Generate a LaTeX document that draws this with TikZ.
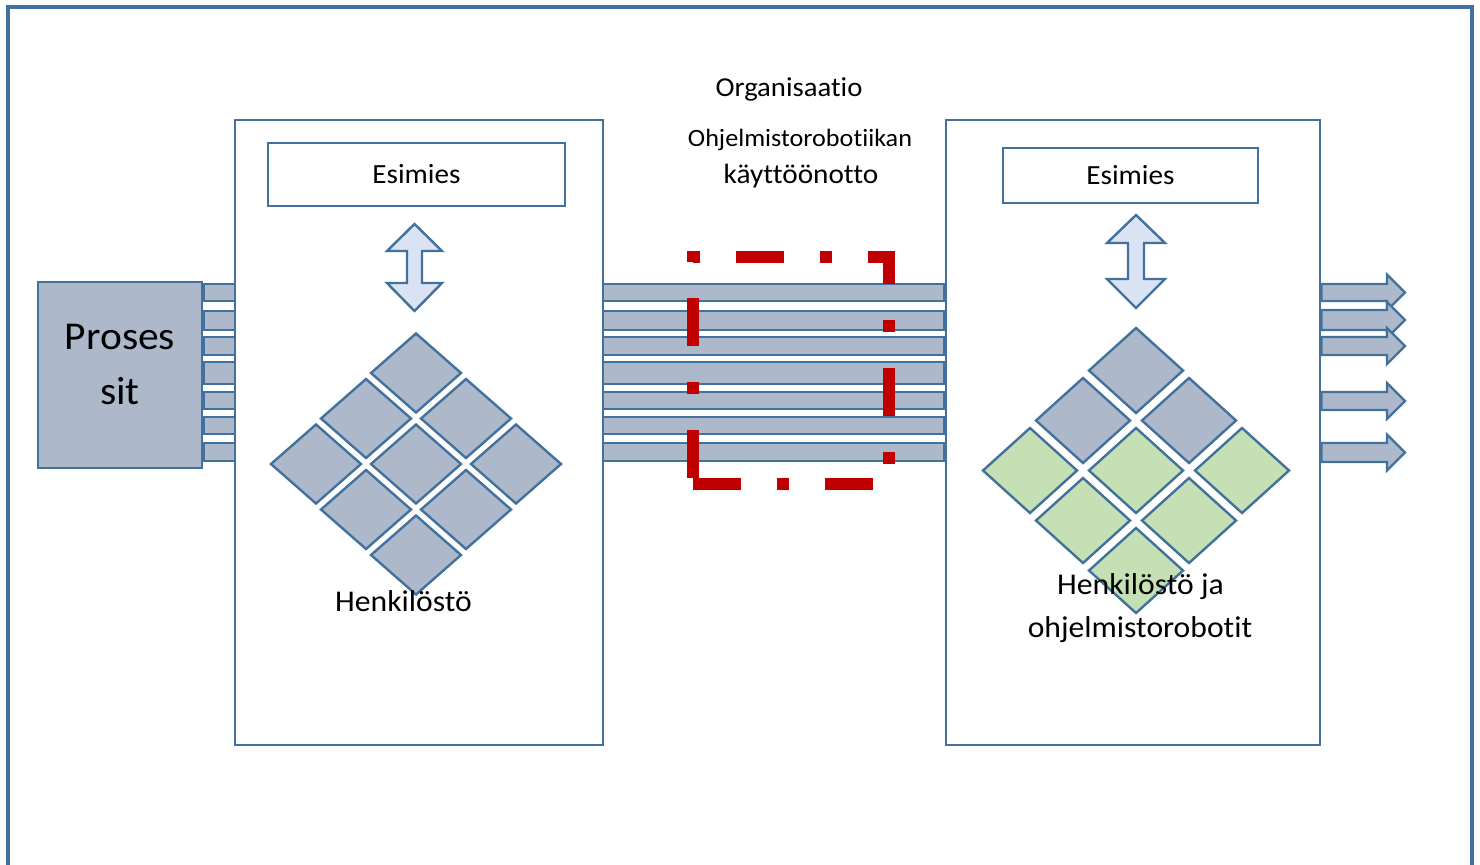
\documentclass[tikz,border=0pt]{standalone}
\usepackage{fontspec}
\setmainfont{Carlito}[FakeStretch=1.05,Ligatures=NoCommon]
\usetikzlibrary{shapes.geometric,backgrounds}
\definecolor{edge}{HTML}{41719C}
\definecolor{slate}{HTML}{ADB9CA}
\definecolor{leaf}{HTML}{C5E0B4}
\definecolor{pale}{HTML}{DAE3F3}
\definecolor{robred}{HTML}{C00000}
\begin{document}
\begin{tikzpicture}[x=0.75pt,y=-0.75pt,
  frame/.style={draw=edge,line width=2.4pt},
  panel/.style={draw=edge,fill=white,line width=2.1pt,inner sep=0pt},
  headbox/.style={draw=edge,fill=white,line width=2.1pt,inner sep=0pt,
    font=\fontsize{20.8pt}{24pt}\selectfont},
  procbox/.style={draw=edge,fill=slate,line width=2.1pt,inner sep=0pt},
  flowbar/.style={draw=edge,fill=slate,line width=1.8pt},
  dbl/.style={draw=edge,fill=pale,line width=1.8pt,line join=miter},
  tileL/.style={diamond,draw=edge,line width=1.8pt,inner sep=0pt,
    minimum width=68.25pt,minimum height=60pt},
  tileR/.style={diamond,draw=edge,line width=1.8pt,inner sep=0pt,
    minimum width=71.25pt,minimum height=64.5pt},
  lbl/.style={anchor=base,inner sep=0pt},
  robo/.style={draw=robred,line width=9pt,line cap=butt,line join=miter,
    dash pattern=on 36pt off 27pt on 9pt off 27pt}]

\useasboundingbox (0,0) rectangle (1480,864);
\clip (0,0) rectangle (1480,864);

% outer frame, open at the bottom
\draw[frame] (8,880) -- (8,7) -- (1472,7) -- (1472,880);

% process block and the two organisation panels
\node[procbox,minimum width=123pt,minimum height=139.5pt] (proc) at (120,375) {};
\node[panel,minimum width=276pt,minimum height=468.75pt] (orgL) at (419,432.5) {};
\node[panel,minimum width=280.5pt,minimum height=468.75pt] (orgR) at (1133,432.5) {};
\node[headbox,minimum width=222.75pt,minimum height=47.25pt] (esL) at (416.5,174.5) {Esimies};
\node[headbox,minimum width=191.25pt,minimum height=41.25pt] (esR) at (1130.5,175.5) {Esimies};

% process flows running behind the panels
\begin{scope}[on background layer]
  \foreach \t/\b in {284/301,311/330,337/355,362/384,392/409,417/434,443/461}
    \draw[flowbar] (proc.east |- 0,\t) rectangle (orgR.west |- 0,\b);
\end{scope}

% flows leaving the robotised organisation
\foreach \t/\b in {284/301,310/330,337/355,392/410,443/462}
  \draw[flowbar,line join=miter] (orgR.east |- 0,\t) -- (1387,\t) -- (1387,{(\t+\b)/2-18})
    -- (1405,{(\t+\b)/2}) -- (1387,{(\t+\b)/2+18}) -- (1387,\b) -- (orgR.east |- 0,\b) -- cycle;

% two-way arrows between manager and staff
\coordinate (dblL) at (414.5,267.5);
\coordinate (dblR) at (1136,261.5);
\draw[dbl,shift={(dblL)}] (0,-43.5) -- (27.5,-16.5) -- (7.5,-16.5) -- (7.5,15.5) -- (27.5,15.5)
  -- (0,43.5) -- (-27.5,15.5) -- (-7.5,15.5) -- (-7.5,-16.5) -- (-27.5,-16.5) -- cycle;
\draw[dbl,shift={(dblR)}] (0,-46.5) -- (29,-18.5) -- (8,-18.5) -- (8,17.5) -- (29,17.5)
  -- (0,46.5) -- (-29,17.5) -- (-8,17.5) -- (-8,-18.5) -- (-29,-18.5) -- cycle;

% staff tiles
\foreach \i in {0,1,2}
  \foreach \j in {0,1,2}
    \node[tileL,fill=slate] (L\i\j) at ({416+50*(\i-\j)},{464+45.5*(\i+\j-2)}) {};
\foreach \i in {0,1,2}
  \foreach \j in {0,1,2}{
    \pgfmathtruncatemacro{\s}{\i+\j}
    \ifnum\s<2 \def\tc{slate}\else\def\tc{leaf}\fi
    \node[tileR,fill=\tc] (R\i\j) at ({1136+53*(\i-\j)},{470.5+50*(\i+\j-2)}) {};
  }

% labels
\node[lbl,font=\fontsize{29.6pt}{33pt}\selectfont] (procA) at (120,349) {Proses};
\node[lbl,font=\fontsize{29.6pt}{33pt}\selectfont] (procB) at (120,404) {sit};
\node[lbl,font=\fontsize{20.5pt}{24pt}\selectfont] (org) at (789,96) {Organisaatio};
\node[lbl,font=\fontsize{18.7pt}{22pt}\selectfont] (rpa1) at (800,146) {Ohjelmistorobotiikan};
\node[lbl,font=\fontsize{20.9pt}{24pt}\selectfont] (rpa2) at (801,183) {käyttöönotto};
\node[lbl,font=\fontsize{22.6pt}{26pt}\selectfont] (staffL) at (403.5,611) {Henkilöstö};
\node[lbl,font=\fontsize{22.6pt}{26pt}\selectfont] (staffR1) at (1140.5,594) {Henkilöstö ja};
\node[lbl,font=\fontsize{22.6pt}{26pt}\selectfont] (staffR2) at (1140,637) {ohjelmistorobotit};

% change boundary of the robotics roll-out
\draw[robo] (693,484) -- (889,484) -- (889,257) -- (693,257) -- (693,484);
\end{tikzpicture}
\end{document}
